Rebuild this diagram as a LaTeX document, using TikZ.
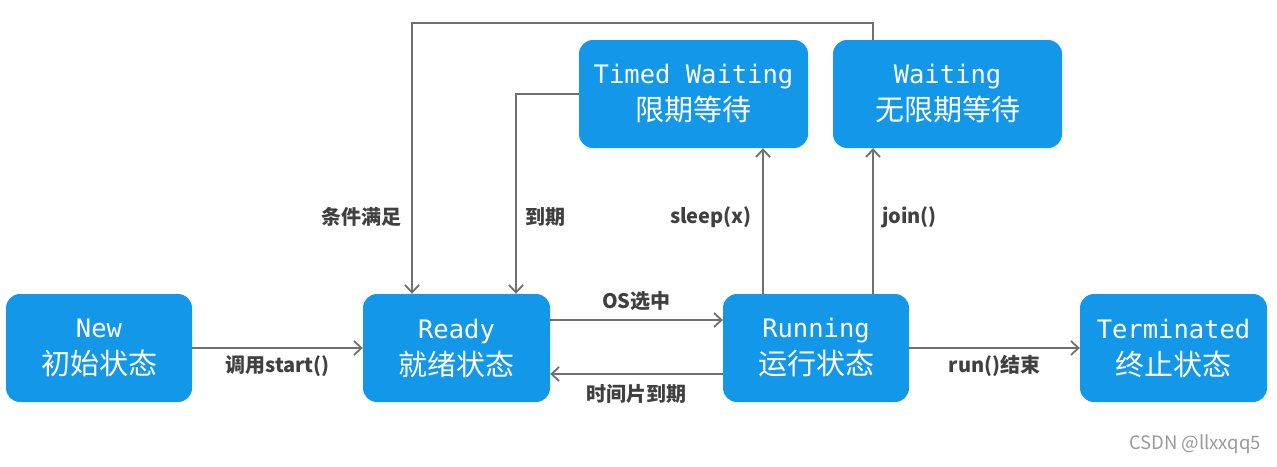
\documentclass[tikz,border=0pt]{standalone}
\usepackage{fontspec}
\newfontfamily\cjk{Noto Sans CJK SC}
\newfontfamily\mono{DejaVu Sans Mono}
\usetikzlibrary{arrows.meta}
\definecolor{boxblue}{HTML}{1397E8}
\definecolor{linegray}{HTML}{707070}
\definecolor{lblgray}{HTML}{404040}
\newcommand{\entxt}[1]{{\mono\fontsize{25.5}{37}\selectfont #1}}
\newcommand{\zhtxt}[1]{{\cjk\fontsize{29}{37}\selectfont #1}}
\tikzset{
  state/.style={draw=none, fill=boxblue, rounded corners=14pt, minimum height=108pt, inner sep=0pt, text=white, align=center, font=\fontsize{25}{37}\selectfont},
  conn/.style={draw=linegray, line width=1.8pt, -{Straight Barb[length=7.5pt,width=14pt,line width=1.8pt]}},
  lbl/.style={text=lblgray, font=\cjk\bfseries\fontsize{20}{22}\selectfont, inner sep=0pt},
}
\begin{document}
\begin{tikzpicture}[x=1pt,y=-1pt]
\useasboundingbox (0,0) rectangle (1277,466);
\node[state, minimum width=186pt] (new) at (99,348) {\entxt{New}\\\zhtxt{初始状态}};
\node[state, minimum width=187pt] (ready) at (456.5,348) {\entxt{Ready}\\\zhtxt{就绪状态}};
\node[state, minimum width=186pt] (run) at (816,348) {\entxt{Running}\\\zhtxt{运行状态}};
\node[state, minimum width=187pt] (term) at (1173.5,348) {\entxt{Terminated}\\\zhtxt{终止状态}};
\node[state, minimum width=229pt] (timed) at (693.5,94) {\entxt{Timed Waiting}\\\zhtxt{限期等待}};
\node[state, minimum width=229pt] (wait) at (947.5,94) {\entxt{Waiting}\\\zhtxt{无限期等待}};
% horizontal connectors
\draw[conn] (new.east) -- (ready.west) node[lbl, midway, yshift=-18pt] (l1) {调用start()};
\draw[conn] ([yshift=28pt]ready.east) -- ([yshift=28pt]run.west) node[lbl, midway, yshift=19pt] (l2) {OS选中};
\draw[conn] ([yshift=-26pt]run.west) -- ([yshift=-26pt]ready.east) node[lbl, midway, yshift=-20pt] (l3) {时间片到期};
\draw[conn] (run.east) -- (term.west) node[lbl, midway, yshift=-18pt] (l4) {run()结束};
% vertical connectors
\coordinate (rs) at ([xshift=-53pt]run.north);
\coordinate (rj) at ([xshift=57pt]run.north);
\draw[conn] (rs) -- (rs |- timed.south);
\draw[conn] (rj) -- (rj |- wait.south);
\node[lbl, anchor=east] (l5) at (752,217) {sleep(x)};
\node[lbl, anchor=west] (l6) at (882,217) {join()};
% timed -> ready
\coordinate (rq) at ([xshift=59.5pt]ready.north);
\draw[conn] (timed.west) -| (rq);
\node[lbl, anchor=west] (l7) at (525,217) {到期};
% waiting -> ready
\coordinate (wt) at (rj |- wait.north);
\coordinate (top) at (412,23);
\draw[conn] (wt) |- (top) -- (top |- ready.north);
\node[lbl, anchor=east] (l8) at (402,217) {条件满足};
% watermark
\node[text=gray!80, font=\cjk\fontsize{18.5}{20}\selectfont, inner sep=0pt] (wm) at (1195,444) {CSDN @llxxqq5};
\end{tikzpicture}
\end{document}
